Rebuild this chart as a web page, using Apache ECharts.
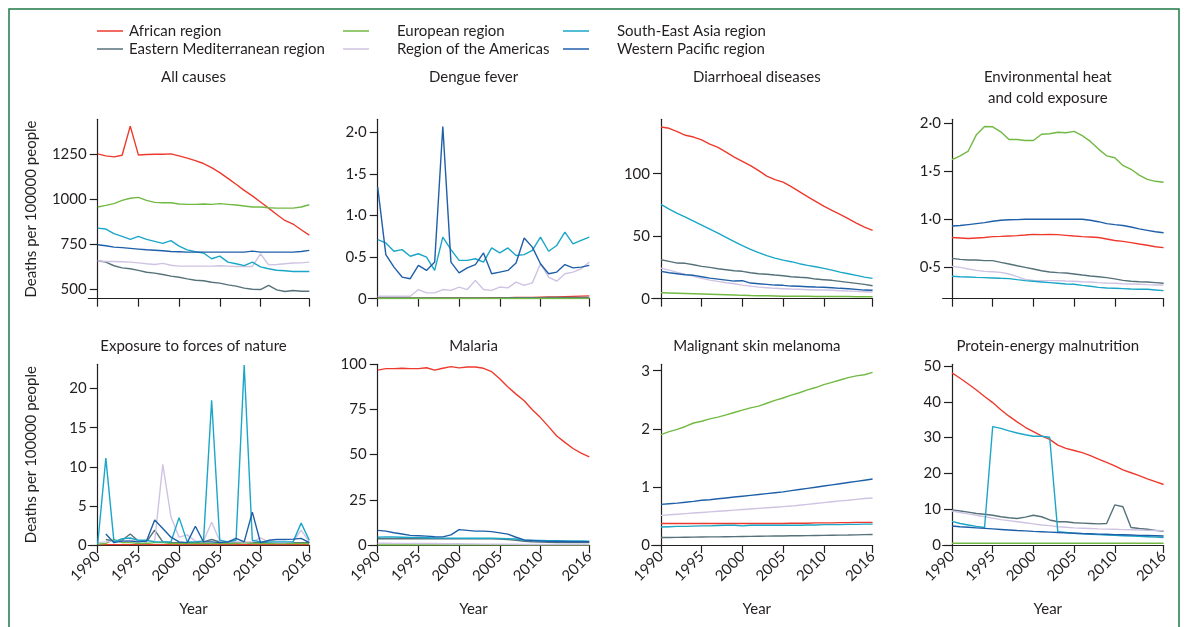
<!DOCTYPE html>
<html><head><meta charset="utf-8">
<script src="https://cdn.jsdelivr.net/npm/echarts@6/dist/echarts.min.js"></script>
<style>html,body{margin:0;padding:0;background:#fff}#c{width:1184px;height:627px}</style>
</head><body><div id="c"></div>
<script>
const years = [1990,1991,1992,1993,1994,1995,1996,1997,1998,1999,2000,2001,2002,2003,2004,2005,2006,2007,2008,2009,2010,2011,2012,2013,2014,2015,2016];
const regions = ['African region','Eastern Mediterranean region','European region','Region of the Americas','South-East Asia region','Western Pacific region'];
const regionColors = ['#ee3a2c','#55717a','#72b944','#cfc3e3','#1aa6c8','#1f5fa8'];

// All causes
const allAfr = [1254,1243,1237,1246,1409,1248,1250,1252,1252,1254,1243,1230,1216,1200,1177,1149,1117,1084,1050,1019,985,951,915,882,862,830,800];
const allEmr = [657,649,629,617,612,603,593,588,580,571,565,556,548,545,537,532,522,515,504,498,496,519,494,485,491,487,487];
const allEur = [957,966,976,994,1006,1011,994,983,981,981,974,972,972,974,972,976,972,968,963,957,957,953,951,951,951,957,970];
const allAmr = [657,653,653,651,649,645,640,636,642,632,627,627,627,627,627,629,627,625,625,625,696,634,636,640,644,645,649];
const allSea = [839,834,808,793,776,793,776,765,754,769,739,718,707,700,668,683,649,640,630,649,623,612,604,601,597,597,597];
const allWpr = [746,741,733,730,726,722,718,716,713,709,707,705,705,705,705,705,705,705,705,711,705,705,705,705,705,709,715];

// Dengue fever
const denAfr = [0.005,0.005,0.005,0.006,0.006,0.007,0.007,0.008,0.008,0.008,0.009,0.009,0.01,0.01,0.011,0.012,0.013,0.014,0.015,0.016,0.018,0.02,0.022,0.025,0.028,0.031,0.034];
const denEmr = [0.01,0.01,0.01,0.01,0.01,0.01,0.01,0.01,0.01,0.01,0.01,0.01,0.01,0.01,0.01,0.01,0.012,0.012,0.012,0.013,0.013,0.014,0.014,0.015,0.015,0.016,0.016];
const denEur = [0.003,0.003,0.003,0.003,0.003,0.003,0.003,0.003,0.003,0.003,0.003,0.003,0.003,0.003,0.003,0.003,0.003,0.003,0.003,0.003,0.003,0.003,0.003,0.003,0.003,0.003,0.003];
const denAmr = [0.03,0.03,0.03,0.03,0.03,0.11,0.07,0.07,0.11,0.10,0.14,0.11,0.22,0.11,0.10,0.14,0.13,0.20,0.16,0.19,0.42,0.26,0.21,0.30,0.32,0.36,0.44];
const denSea = [0.71,0.67,0.57,0.59,0.51,0.54,0.50,0.34,0.74,0.59,0.46,0.46,0.48,0.44,0.61,0.55,0.61,0.52,0.53,0.58,0.74,0.57,0.64,0.80,0.66,0.70,0.74];
const denWpr = [1.34,0.53,0.38,0.26,0.24,0.40,0.34,0.44,2.07,0.44,0.31,0.37,0.41,0.55,0.30,0.32,0.34,0.43,0.73,0.62,0.42,0.30,0.32,0.41,0.37,0.38,0.40];

// Diarrhoeal diseases
const diaAfr = [137.3,136.3,133.6,130.7,129.3,127,123.7,121,117.3,113.3,109.9,106.4,102.4,98.1,95.2,93.3,89.6,85.6,81.6,77.9,74.1,70.7,67.5,64,60.5,57.3,54.7];
const diaEmr = [31.2,29.9,28.5,28.3,27.2,25.9,25.1,24,23.2,22.4,21.9,20.8,20,19.5,18.9,18.4,17.6,17.1,16.8,15.7,15.2,14.7,13.9,13.1,12.3,11.5,10.4];
const diaEur = [4.8,4.6,4.4,4.2,4.0,3.8,3.6,3.4,3.2,3.0,2.7,2.5,2.4,2.3,2.2,2.0,2.0,1.9,1.9,1.8,1.8,1.7,1.7,1.7,1.6,1.6,1.6];
const diaAmr = [24.5,22.9,21.1,19.5,17.9,16.3,14.9,13.9,12.8,12,10.9,10.1,9.3,8.8,8.3,8,7.7,7.5,7.2,6.9,6.9,6.7,6.4,6.1,5.9,5.6,5.3];
const diaSea = [75.5,71.7,68.3,65.3,62.1,58.9,55.7,52.5,49.1,45.6,42.4,39.5,36.8,34.4,32.5,30.9,29.6,28,26.7,25.6,24.3,22.9,21.3,20,18.7,17.3,16.3];
const diaWpr = [21.9,20.8,20,19.2,18.7,17.6,16.5,15.7,14.9,14.1,14.4,12.5,12,11.5,10.9,10.7,10.1,9.9,9.6,9.3,9.1,8.8,8.3,8,7.5,6.9,6.7];

// Environmental heat and cold exposure
const envAfr = [0.81,0.805,0.80,0.805,0.81,0.82,0.822,0.826,0.83,0.836,0.843,0.84,0.843,0.84,0.833,0.826,0.82,0.815,0.81,0.795,0.78,0.77,0.757,0.743,0.73,0.715,0.705];
const envEmr = [0.594,0.583,0.576,0.576,0.57,0.57,0.552,0.535,0.517,0.50,0.483,0.465,0.452,0.445,0.441,0.431,0.42,0.41,0.403,0.393,0.38,0.365,0.355,0.351,0.348,0.341,0.334];
const envEur = [1.62,1.66,1.71,1.88,1.965,1.962,1.91,1.83,1.83,1.82,1.82,1.885,1.89,1.905,1.90,1.915,1.87,1.81,1.73,1.66,1.64,1.56,1.52,1.46,1.415,1.395,1.385];
const envAmr = [0.51,0.50,0.483,0.469,0.458,0.455,0.448,0.431,0.403,0.375,0.365,0.362,0.362,0.362,0.358,0.355,0.351,0.348,0.341,0.337,0.334,0.33,0.327,0.324,0.32,0.317,0.317];
const envSea = [0.407,0.403,0.40,0.396,0.393,0.39,0.386,0.383,0.372,0.362,0.355,0.348,0.341,0.334,0.327,0.324,0.313,0.303,0.292,0.285,0.282,0.279,0.275,0.272,0.272,0.265,0.258];
const envWpr = [0.93,0.935,0.945,0.955,0.965,0.98,0.99,0.995,0.997,1.0,1.0,1.0,1.0,1.0,1.0,1.0,1.0,0.99,0.975,0.955,0.944,0.935,0.92,0.90,0.885,0.87,0.86];

// Exposure to forces of nature
const expAfr = [0.05,0.05,0.05,0.05,0.05,0.05,0.05,0.05,0.05,0.05,0.05,0.05,0.05,0.05,0.05,0.05,0.05,0.05,0.05,0.05,0.05,0.05,0.05,0.05,0.05,0.05,0.05];
const expEmr = [null,0.7,0.5,0.6,1.4,0.5,0.4,1.9,0.4,0.3,0.3,0.3,0.3,0.4,0.7,0.4,0.3,0.3,0.3,0.3,0.3,0.3,0.3,0.3,0.3,0.3,0.3];
const expEur = [0.1,0.2,0.7,0.3,0.3,0.2,0.2,0.3,0.3,0.2,0.2,0.2,0.2,0.2,0.2,0.2,0.2,0.2,0.3,0.2,0.2,0.2,0.2,0.2,0.2,0.2,0.2];
const expAmr = [0.3,0.4,0.5,0.5,0.6,0.5,0.5,0.5,10.3,3.6,1.0,1.3,0.5,0.5,2.9,0.5,0.4,0.4,0.4,0.4,0.9,0.4,0.3,0.3,0.4,1.9,0.4];
const expSea = [0.1,11.1,0.4,0.8,0.9,0.6,0.6,0.4,0.4,0.4,3.5,0.4,0.4,0.5,18.5,0.6,0.4,0.6,23.0,0.6,0.4,0.4,0.4,0.4,0.4,2.8,0.6];
const expWpr = [null,1.4,0.3,0.5,0.5,0.4,0.5,3.2,2.1,1.0,0.4,0.3,2.4,0.4,0.4,0.3,0.4,0.85,0.4,4.2,0.3,0.6,0.7,0.7,0.75,0.85,0.3];

// Malaria
const malAfr = [96.8,97.6,97.6,97.8,97.6,97.6,98.1,96.8,97.8,98.7,98.0,98.5,98.5,97.8,95.9,92.0,87.4,83.5,79.8,74.8,70.5,65.5,60.3,56.8,53.4,50.8,48.8];
const malEmr = [3.5,3.5,3.5,3.5,3.5,3.5,3.5,3.5,3.5,3.5,3.5,3.5,3.5,3.5,3.4,3.3,3.0,2.6,2.1,1.8,1.6,1.5,1.4,1.4,1.3,1.3,1.3];
const malEur = [0.01,0.01,0.01,0.01,0.01,0.01,0.01,0.01,0.01,0.01,0.01,0.01,0.01,0.01,0.01,0.01,0.01,0.01,0.01,0.01,0.01,0.01,0.01,0.01,0.01,0.01,0.01];
const malAmr = [1.0,1.0,0.9,0.9,0.9,0.8,0.8,0.8,0.7,0.7,0.7,0.6,0.6,0.5,0.5,0.5,0.4,0.4,0.3,0.3,0.3,0.3,0.2,0.2,0.2,0.2,0.2];
const malSea = [4.3,4.5,4.4,4.3,4.2,4.1,4.0,3.9,3.8,3.8,3.7,3.7,3.7,3.7,3.7,3.6,3.5,3.3,2.6,2.5,2.5,2.4,2.4,2.3,2.3,2.2,2.1];
const malWpr = [8.1,7.7,6.8,6.1,5.3,5.1,4.9,4.6,4.5,5.6,8.5,8.1,7.7,7.7,7.4,6.7,6.0,4.3,2.8,2.5,2.2,2.0,1.9,1.9,1.8,1.8,1.8];

// Malignant skin melanoma
const melAfr = [0.37,0.37,0.37,0.37,0.37,0.37,0.37,0.37,0.37,0.37,0.37,0.37,0.37,0.37,0.37,0.37,0.375,0.375,0.375,0.38,0.38,0.38,0.385,0.385,0.39,0.39,0.39];
const melEmr = [0.13,0.13,0.132,0.134,0.136,0.138,0.14,0.14,0.142,0.144,0.146,0.148,0.15,0.152,0.154,0.156,0.158,0.16,0.162,0.164,0.166,0.168,0.17,0.172,0.175,0.178,0.18];
const melEur = [1.90,1.95,1.99,2.04,2.10,2.13,2.17,2.20,2.24,2.28,2.32,2.36,2.39,2.44,2.49,2.53,2.58,2.62,2.67,2.71,2.76,2.80,2.84,2.88,2.91,2.93,2.97];
const melAmr = [0.51,0.52,0.53,0.54,0.55,0.56,0.57,0.58,0.59,0.60,0.61,0.62,0.63,0.64,0.65,0.66,0.67,0.685,0.70,0.715,0.73,0.745,0.76,0.77,0.785,0.80,0.81];
const melSea = [0.31,0.315,0.32,0.32,0.325,0.33,0.33,0.335,0.34,0.34,0.33,0.34,0.34,0.34,0.34,0.34,0.34,0.34,0.345,0.345,0.35,0.35,0.35,0.355,0.355,0.36,0.36];
const melWpr = [0.70,0.71,0.72,0.735,0.75,0.77,0.78,0.795,0.81,0.825,0.84,0.855,0.87,0.885,0.90,0.915,0.935,0.955,0.975,0.995,1.015,1.035,1.055,1.075,1.095,1.115,1.135];

// Protein-energy malnutrition
const proAfr = [48.1,46.6,45,43.3,41.5,39.8,37.8,36,34.4,32.9,31.7,30.5,29.5,27.9,27,26.4,25.8,25,24,23.1,22.1,21,20.2,19.4,18.5,17.7,16.9];
const proEmr = [9.8,9.5,9.2,8.8,8.6,8.3,7.9,7.6,7.4,7.8,8.3,7.9,7,6.5,6.5,6.2,6.1,6.0,5.9,6.0,11.2,10.7,4.9,4.6,4.4,4.1,3.8];
const proEur = [0.5,0.5,0.5,0.5,0.5,0.5,0.5,0.5,0.5,0.5,0.5,0.5,0.5,0.5,0.5,0.5,0.5,0.5,0.5,0.5,0.5,0.5,0.5,0.5,0.5,0.5,0.5];
const proAmr = [9.5,9.1,8.7,8.3,7.9,7.5,7.1,6.8,6.5,6.2,5.9,5.6,5.4,5.1,4.95,4.8,4.7,4.6,4.5,4.45,4.4,4.3,4.25,4.2,4.1,4.05,4.0];
const proSea = [6.6,6.0,5.6,5.2,4.9,33.1,32.6,31.9,31.3,30.8,30.4,30.4,30.1,3.7,3.5,3.3,3.1,3.0,2.9,2.8,2.7,2.6,2.5,2.4,2.3,2.2,2.1];
const proWpr = [5.3,5.1,4.95,4.8,4.65,4.5,4.35,4.2,4.05,3.95,3.8,3.7,3.6,3.5,3.4,3.3,3.2,3.15,3.05,3.0,2.9,2.85,2.8,2.7,2.65,2.6,2.5];

const panelTitles = ['All causes','Dengue fever','Diarrhoeal diseases','Environmental heat\nand cold exposure','Exposure to forces of nature','Malaria','Malignant skin melanoma','Protein-energy malnutrition'];
const panelSeries = [
  [allAfr, allEmr, allEur, allAmr, allSea, allWpr],
  [denAfr, denEmr, denEur, denAmr, denSea, denWpr],
  [diaAfr, diaEmr, diaEur, diaAmr, diaSea, diaWpr],
  [envAfr, envEmr, envEur, envAmr, envSea, envWpr],
  [expAfr, expEmr, expEur, expAmr, expSea, expWpr],
  [malAfr, malEmr, malEur, malAmr, malSea, malWpr],
  [melAfr, melEmr, melEur, melAmr, melSea, melWpr],
  [proAfr, proEmr, proEur, proAmr, proSea, proWpr]
];
const yTickValues = [[500,750,1000,1250],[0,0.5,1,1.5,2],[0,50,100],[0.5,1,1.5,2],[0,5,10,15,20],[0,25,50,75,100],[0,1,2,3],[0,10,20,30,40,50]];
const yDecimalLabels = [false,true,false,true,false,false,false,false];
const xTickValues = [1990,1995,2000,2005,2010,2016];
const yAxisTitle = 'Deaths per 100000 people';
const xAxisTitle = 'Year';

// layout
const yMin = [445,0,0,0.174,0,0,0,0];
const yMax = [1447,2.156,143.5,2.04,23.1,100,3.11,50.5];
const axisXs = [97.7,377.7,661,952];
const rowTop = [119.3,364.3];
const rowH = [179.4,180.7];
const xMin = 1988.85, xMax = 2016;
const plotW = 211.6;
const pxPerYear = plotW / (xMax - 1990);
const ext = (1990 - xMin) * pxPerYear;
const FONT = 'Lato';
const INK = '#231f20';

const grids = [], xAxes = [], yAxes = [], series = [], graphics = [];
for (let p = 0; p < 8; p++) {
  const row = Math.floor(p / 4), col = p % 4;
  grids.push({left: axisXs[col] - ext, top: rowTop[row], width: plotW + ext, height: rowH[row]});
  xAxes.push({
    type: 'value', gridIndex: p, min: xMin, max: xMax,
    axisLine: {lineStyle: {color: INK, width: 1.2}},
    axisTick: {show: true, length: 8, customValues: xTickValues, lineStyle: {color: INK, width: 1.2}},
    axisLabel: {show: row === 1, customValues: xTickValues, rotate: 45, fontFamily: FONT, fontSize: 15, color: INK, margin: 9,
      formatter: v => String(Math.round(v))},
    splitLine: {show: false}
  });
  const dec = yDecimalLabels[p];
  yAxes.push({
    type: 'value', gridIndex: p, min: yMin[p], max: yMax[p], offset: -ext,
    axisLine: {show: true, onZero: false, lineStyle: {color: INK, width: 1.2}},
    axisTick: {show: true, length: 8, customValues: yTickValues[p], lineStyle: {color: INK, width: 1.2}},
    axisLabel: {customValues: yTickValues[p], fontFamily: FONT, fontSize: 15, color: INK, margin: 11,
      formatter: v => (dec && v !== 0) ? v.toFixed(1).replace('.', '\u00b7') : String(v)},
    splitLine: {show: false}
  });
  panelSeries[p].forEach((arr, r) => {
    series.push({
      type: 'line', name: regions[r], xAxisIndex: p, yAxisIndex: p,
      data: arr.map((v, i) => [years[i], v]),
      showSymbol: false, symbol: 'none', connectNulls: false,
      lineStyle: {color: regionColors[r], width: 1.4},
      itemStyle: {color: regionColors[r]},
      z: 2 + r, animation: false
    });
  });
  const cx = axisXs[col] + plotW / 2 - 10;
  const isTwoLine = panelTitles[p].indexOf('\n') >= 0;
  graphics.push({type: 'text', x: cx, y: row === 0 ? (isTwoLine ? 87.2 : 76.7) : 345.7,
    style: {text: panelTitles[p], textAlign: 'center', textVerticalAlign: 'middle', font: '15px ' + FONT, fill: INK, lineHeight: 21}});
  if (row === 1) {
    graphics.push({type: 'text', x: cx, y: 609,
      style: {text: xAxisTitle, textAlign: 'center', textVerticalAlign: 'middle', font: '15px ' + FONT, fill: INK}});
  }
  if (col === 0) {
    graphics.push({type: 'text', x: 31, y: rowTop[row] + rowH[row] / 2, rotation: Math.PI / 2,
      style: {text: yAxisTitle, textAlign: 'center', textVerticalAlign: 'middle', font: '15px ' + FONT, fill: INK}});
  }
}
graphics.push({type: 'rect', shape: {x: 9, y: 9, width: 1170, height: 640}, style: {fill: 'none', stroke: '#1f7a45', lineWidth: 1.5}, silent: true});

// legend: 3 columns x 2 rows
const legendOrder = [0, 2, 4, 1, 3, 5];
const legendX = [97, 343, 563];
const legendY = [31, 49];
const legends = legendOrder.map((r, k) => ({
  data: [regions[r]], left: legendX[k % 3], top: legendY[Math.floor(k / 3)] - 9, padding: 0,
  icon: 'rect', itemWidth: 26, itemHeight: 1.5,
  textStyle: {fontFamily: FONT, fontSize: 15, color: INK, lineHeight: 18, padding: [0, 0, 0, k % 3 === 0 ? 1 : 23]}
}));

const chart = echarts.init(document.getElementById('c'), null, {renderer: 'canvas'});
chart.setOption({
  animation: false, backgroundColor: '#fff',
  grid: grids, xAxis: xAxes, yAxis: yAxes, series: series, legend: legends, graphic: graphics
});
</script></body></html>
